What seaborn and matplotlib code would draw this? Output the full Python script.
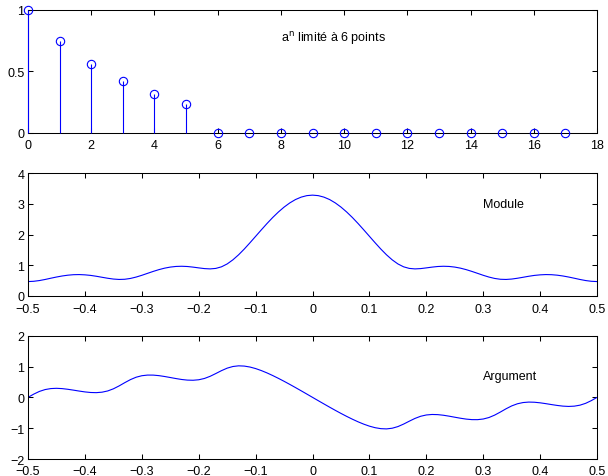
import numpy as np
import matplotlib
matplotlib.use("Agg")
import matplotlib.pyplot as plt
from matplotlib.ticker import FuncFormatter
import seaborn as sns

# Sequence a^n truncated to 6 points (a = 0.75), shown over n = 0..17
n_idx = list(range(18))
seq_vals = [1.0, 0.75, 0.5625, 0.4219, 0.3164, 0.2373] + [0.0] * 12

# Spectrum sampled on normalised frequency -0.5 .. 0.5 (step 0.01)
freq = np.linspace(-0.5, 0.5, 101)

module = [
    0.470, 0.479, 0.503, 0.538, 0.579, 0.618, 0.652, 0.678, 0.694, 0.698,
    0.689, 0.671, 0.643, 0.610, 0.578, 0.552, 0.539, 0.545, 0.572, 0.617,
    0.674, 0.738, 0.801, 0.859, 0.907, 0.942, 0.963, 0.969, 0.961, 0.941,
    0.916, 0.893, 0.883, 0.899, 0.951, 1.045, 1.178, 1.342, 1.530, 1.734,
    1.945, 2.156, 2.363, 2.559, 2.738, 2.898, 3.034, 3.144, 3.223, 3.272,
    3.288,
    3.272, 3.223, 3.144, 3.034, 2.898, 2.738, 2.559, 2.363, 2.156, 1.945,
    1.734, 1.530, 1.342, 1.178, 1.045, 0.951, 0.899, 0.883, 0.893, 0.916,
    0.941, 0.961, 0.969, 0.963, 0.942, 0.907, 0.859, 0.801, 0.738, 0.674,
    0.617, 0.572, 0.545, 0.539, 0.552, 0.578, 0.610, 0.643, 0.671, 0.689,
    0.698, 0.694, 0.678, 0.652, 0.618, 0.579, 0.538, 0.503, 0.479, 0.470,
]

argument = [
    0.000, 0.105, 0.193, 0.253, 0.285, 0.294, 0.284, 0.262, 0.234, 0.204,
    0.177, 0.158, 0.153, 0.168, 0.208, 0.277, 0.371, 0.477, 0.576, 0.654,
    0.702, 0.723, 0.722, 0.705, 0.677, 0.644, 0.610, 0.580, 0.560, 0.555,
    0.571, 0.613, 0.683, 0.773, 0.867, 0.948, 1.001, 1.023, 1.015, 0.984,
    0.934, 0.869, 0.793, 0.708, 0.617, 0.521, 0.421, 0.318, 0.213, 0.107,
    0.000,
    -0.107, -0.213, -0.318, -0.421, -0.521, -0.617, -0.708, -0.793, -0.869, -0.934,
    -0.984, -1.015, -1.023, -1.001, -0.948, -0.867, -0.773, -0.683, -0.613, -0.571,
    -0.555, -0.560, -0.580, -0.610, -0.644, -0.677, -0.705, -0.722, -0.723, -0.702,
    -0.654, -0.576, -0.477, -0.371, -0.277, -0.208, -0.168, -0.153, -0.158, -0.177,
    -0.204, -0.234, -0.262, -0.284, -0.294, -0.285, -0.253, -0.193, -0.105, 0.000,
]

sns.set_theme(style="ticks")
plt.rcParams["font.family"] = ["Liberation Sans", "DejaVu Sans"]
plt.rcParams.update({
    "axes.linewidth": 0.75,
    "axes.edgecolor": "black",
    "xtick.direction": "in",
    "ytick.direction": "in",
    "xtick.top": True,
    "ytick.right": True,
    "xtick.major.size": 3.5,
    "ytick.major.size": 3.5,
    "xtick.major.width": 0.75,
    "ytick.major.width": 0.75,
    "xtick.major.pad": 4.0,
    "ytick.major.pad": 2.5,
    "xtick.labelsize": 9,
    "ytick.labelsize": 9,
    "xtick.color": "black",
    "ytick.color": "black",
    "text.color": "black",
})

BLUE = (0, 0, 1)


def fmt(v, _pos):
    v = round(v, 6)
    if v == 0:
        return "0"
    return f"{v:g}".replace("-", "\u2212")


fig = plt.figure(figsize=(6.08, 4.77), dpi=100)
ax1 = fig.add_axes([0.0461, 0.7191, 0.9359, 0.2579])
ax2 = fig.add_axes([0.0461, 0.3774, 0.9359, 0.2572])
ax3 = fig.add_axes([0.0461, 0.0356, 0.9359, 0.2585])

# Stem plot of the truncated sequence
ax1.vlines(n_idx, 0, seq_vals, color=BLUE, lw=0.8, zorder=3, clip_on=False)
sns.lineplot(x=n_idx, y=seq_vals, ax=ax1, estimator=None, sort=False,
             linestyle="", marker="o", markersize=6, markerfacecolor="none",
             markeredgecolor=BLUE, markeredgewidth=0.8, color=BLUE,
             zorder=4, clip_on=False)
ax1.set_xlim(0, 18)
ax1.set_ylim(0, 1)
ax1.set_xticks(range(0, 19, 2))
ax1.set_yticks([0, 0.5, 1])
ax1.text(8, 0.78, "a$^{\\mathrm{n}}$ limité à 6 points", fontsize=9,
         ha="left", va="center")

# Magnitude of the spectrum
sns.lineplot(x=freq, y=module, ax=ax2, estimator=None, sort=False,
             color=BLUE, lw=0.8)
ax2.set_xlim(-0.5, 0.5)
ax2.set_ylim(0, 4)
ax2.set_xticks(np.round(np.arange(-0.5, 0.51, 0.1), 1))
ax2.set_yticks([0, 1, 2, 3, 4])
ax2.tick_params(axis="x", pad=5.0)
ax2.text(0.3, 3, "Module", fontsize=9, ha="left", va="center")

# Phase of the spectrum
sns.lineplot(x=freq, y=argument, ax=ax3, estimator=None, sort=False,
             color=BLUE, lw=0.8)
ax3.set_xlim(-0.5, 0.5)
ax3.set_ylim(-2, 2)
ax3.set_xticks(np.round(np.arange(-0.5, 0.51, 0.1), 1))
ax3.set_yticks([-2, -1, 0, 1, 2])
ax3.text(0.3, 0.7, "Argument", fontsize=9, ha="left", va="center")

for ax in (ax1, ax2, ax3):
    ax.xaxis.set_major_formatter(FuncFormatter(fmt))
    ax.yaxis.set_major_formatter(FuncFormatter(fmt))
    ax.set_xlabel("")
    ax.set_ylabel("")
    for sp in ax.spines.values():
        sp.set_visible(True)
        sp.set_color("black")
        sp.set_linewidth(0.75)

fig.savefig("out.png", dpi=100)
